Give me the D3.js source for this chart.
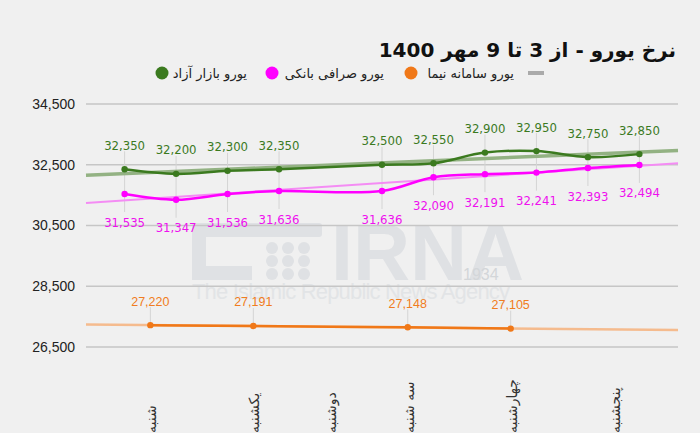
<!DOCTYPE html>
<html>
<head>
<meta charset="utf-8">
<script src="https://cdn.jsdelivr.net/npm/d3@7"></script>
<style>
  body { margin: 0; background: #f0f0f0; }
  svg { display: block; }
</style>
</head>
<body>
<div id="chart"></div>
<script>
// slots are positions along the x axis (two readings per day)
const daySlots = [0.5, 2.5, 4, 5.5, 7.5, 9.5];
const dayLabels = ["شنبه", "یکشنبه", "دوشنبه", "سه شنبه", "چهارشنبه", "پنجشنبه"];

const freeSlots = [0, 1, 2, 3, 5, 6, 7, 8, 9, 10];
const freeValues = [32350, 32200, 32300, 32350, 32500, 32550, 32900, 32950, 32750, 32850];

const bankSlots = [0, 1, 2, 3, 5, 6, 7, 8, 9, 10];
const bankValues = [31535, 31347, 31536, 31636, 31636, 32090, 32191, 32241, 32393, 32494];

const nimaSlots = [0.5, 2.5, 5.5, 7.5];
const nimaValues = [27220, 27191, 27148, 27105];

const yTicks = [26500, 28500, 30500, 32500, 34500];

const seriesNames = ["یورو بازار آزاد", "یورو صرافی بانکی", "یورو سامانه نیما"];

const W = 700, H = 433;
const green = "#3b7a1f", magenta = "#ff00ff", orange = "#f07818";

const svg = d3.select("#chart").append("svg")
    .attr("width", W).attr("height", H)
    .style("background", "#f0f0f0");

const x = d3.scaleLinear().domain([-0.75, 10.75]).range([86, 678]);
const y = d3.scaleLinear().domain([26500, 34500]).range([347, 104]);

// title (rtl: anchor "start" is the right edge)
svg.append("text")
    .attr("x", 676).attr("y", 57)
    .attr("direction", "rtl")
    .attr("text-anchor", "start")
    .style("font-family", "DejaVu Sans")
    .style("font-weight", "bold")
    .style("font-size", "20px")
    .style("fill", "#111")
    .text("نرخ یورو - از 3 تا 9 مهر 1400");

// legend
const legend = svg.append("g");
legend.append("rect").attr("x", 528).attr("y", 71).attr("width", 16).attr("height", 4).style("fill", "#aaa");
const legendItems = [
    { name: seriesNames[2], color: orange, dot: 411, textRight: 514 },
    { name: seriesNames[1], color: magenta, dot: 272, textRight: 384 },
    { name: seriesNames[0], color: green, dot: 162, textRight: 247 }
];
legendItems.forEach(d => {
    legend.append("circle").attr("cx", d.dot).attr("cy", 73).attr("r", 6.5).style("fill", d.color);
    legend.append("text")
        .attr("x", d.textRight).attr("y", 78)
        .attr("direction", "rtl")
        .attr("text-anchor", "start")
        .style("font-family", "DejaVu Sans")
        .style("font-size", "13px")
        .style("fill", "#222")
        .text(d.name);
});

// watermark
const wm = svg.append("g").style("fill", "#dfe1e4");
wm.append("rect").attr("x", 192).attr("y", 223).attr("width", 130).attr("height", 14).attr("rx", 3);
wm.append("rect").attr("x", 192).attr("y", 223).attr("width", 14).attr("height", 57);
wm.append("rect").attr("x", 192).attr("y", 266).attr("width", 60).attr("height", 14);
for (let i = 0; i < 3; i++) {
    for (let j = 0; j < 3; j++) {
        wm.append("circle").attr("cx", 272 + j * 16).attr("cy", 248 + i * 13).attr("r", 6);
    }
}
wm.append("text")
    .attr("x", 331).attr("y", 280)
    .style("font-family", "Liberation Sans")
    .style("font-weight", "bold")
    .style("font-size", "79px")
    .text("IRNA");
wm.append("text")
    .attr("x", 463).attr("y", 280)
    .style("font-family", "Liberation Sans")
    .style("font-size", "16px")
    .style("fill", "#d3d6d9")
    .text("1934");
wm.append("text")
    .attr("x", 192).attr("y", 299)
    .attr("textLength", 318)
    .style("font-family", "Liberation Sans")
    .style("font-size", "22px")
    .style("fill", "#e2e4e6")
    .text("The Islamic Republic News Agency");

// grid and y labels
svg.append("g")
    .selectAll("line")
    .data(yTicks)
    .join("line")
    .attr("x1", 86).attr("x2", 678)
    .attr("y1", d => y(d)).attr("y2", d => y(d))
    .style("stroke", "#c6c6c6")
    .style("stroke-width", 1.5);

svg.append("g")
    .selectAll("text")
    .data(yTicks)
    .join("text")
    .attr("x", 75).attr("y", d => y(d))
    .attr("dy", "0.35em")
    .attr("text-anchor", "end")
    .style("font-family", "Liberation Sans")
    .style("font-size", "14px")
    .style("fill", "#222")
    .text(d => d3.format(",")(d));

// day labels (rotated, reading upward, clipped by the bottom edge like the original)
svg.append("g")
    .selectAll("text")
    .data(daySlots)
    .join("text")
    .attr("transform", d => `translate(${x(d) + 1}, 433) rotate(-90)`)
    .attr("dy", "0.35em")
    .style("font-family", "DejaVu Sans")
    .style("font-size", "14px")
    .style("fill", "#333")
    .text((d, i) => dayLabels[i]);

// leader lines
const leaders = svg.append("g").style("stroke", "#d4d4d4").style("stroke-width", 1);
freeSlots.forEach((s, i) => {
    leaders.append("line")
        .attr("x1", x(s)).attr("x2", x(s))
        .attr("y1", y(freeValues[i]) - 18).attr("y2", y(bankValues[i]) + 18);
});
nimaSlots.forEach((s, i) => {
    leaders.append("line")
        .attr("x1", x(s)).attr("x2", x(s))
        .attr("y1", y(nimaValues[i]) - 18).attr("y2", y(nimaValues[i]));
});

// trend lines (least squares over each series)
function trend(slots, values) {
    const mx = d3.mean(slots), my = d3.mean(values);
    const slope = d3.sum(slots, (s, i) => (s - mx) * (values[i] - my)) / d3.sum(slots, s => (s - mx) ** 2);
    return x.domain().map(s => [s, my + slope * (s - mx)]);
}
const straight = d3.line().x(d => x(d[0])).y(d => y(d[1]));

svg.append("path").attr("d", straight(trend(freeSlots, freeValues)))
    .style("fill", "none").style("stroke", "#93b283").style("stroke-width", 3.5);
svg.append("path").attr("d", straight(trend(bankSlots, bankValues)))
    .style("fill", "none").style("stroke", "#f48cf4").style("stroke-width", 2);
svg.append("path").attr("d", straight(trend(nimaSlots, nimaValues)))
    .style("fill", "none").style("stroke", "#f5bb8e").style("stroke-width", 2.5);

// series
const smooth = d3.line().x(d => x(d[0])).y(d => y(d[1])).curve(d3.curveCatmullRom.alpha(0.5));

function drawSeries(slots, values, color, labelDy, labelColor, font, size) {
    const pts = slots.map((s, i) => [s, values[i]]);
    const g = svg.append("g");
    g.append("path").attr("d", smooth(pts))
        .style("fill", "none").style("stroke", color).style("stroke-width", 2.5);
    g.selectAll("circle")
        .data(pts)
        .join("circle")
        .attr("cx", d => x(d[0])).attr("cy", d => y(d[1]))
        .attr("r", 3.2)
        .style("fill", color);
    g.selectAll("text")
        .data(pts)
        .join("text")
        .attr("x", d => x(d[0])).attr("y", d => y(d[1]) + labelDy)
        .attr("dy", "0.35em")
        .attr("text-anchor", "middle")
        .style("font-family", font)
        .style("font-size", size)
        .style("fill", labelColor)
        .text(d => d3.format(",")(d[1]));
}

drawSeries(freeSlots, freeValues, green, -24, "#3b7a1f", "DejaVu Sans Condensed", "13px");
drawSeries(bankSlots, bankValues, magenta, 28, "#ee11ee", "DejaVu Sans Condensed", "13px");
drawSeries(nimaSlots, nimaValues, orange, -24, "#f07c20", "Liberation Sans", "12.5px");
</script>
</body>
</html>
